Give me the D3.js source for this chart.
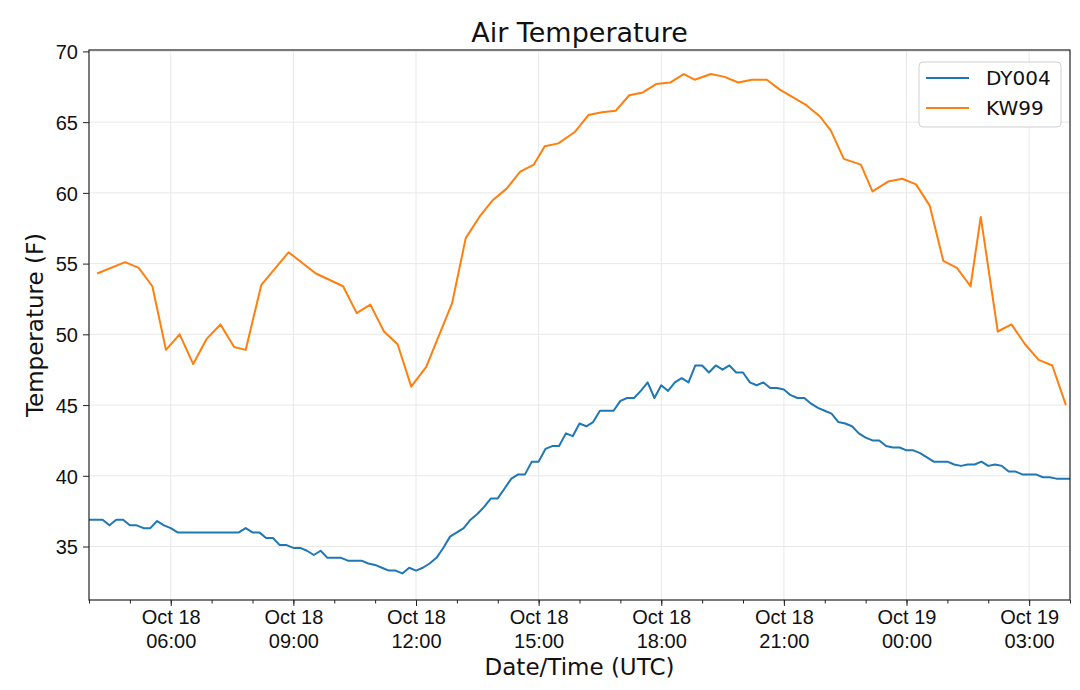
<!DOCTYPE html>
<html>
<head>
<meta charset="utf-8">
<script src="https://cdn.jsdelivr.net/npm/d3@7"></script>
<style>
  body { margin: 0; background: #fff; }
  svg { font-family: "DejaVu Sans", sans-serif; }
  .grid line { stroke: #e8e8e8; stroke-width: 1; }
  .axis path, .axis line { stroke: #222; }
  .axis text { fill: #111; font-size: 20px; }
</style>
</head>
<body>
<svg id="chart"></svg>
<script>
// DY004: one reading every 10 minutes from Oct 18 04:00 UTC
const dyStart = '2019-10-18T04:00:00Z';
const dyStepMinutes = 10;
const dyTemps = [
  36.9, 36.9, 36.9, 36.5, 36.9, 36.9, 36.5, 36.5, 36.3, 36.3,
  36.8, 36.5, 36.3, 36.0, 36.0, 36.0, 36.0, 36.0, 36.0, 36.0,
  36.0, 36.0, 36.0, 36.3, 36.0, 36.0, 35.6, 35.6, 35.1, 35.1,
  34.9, 34.9, 34.7, 34.4, 34.7, 34.2, 34.2, 34.2, 34.0, 34.0,
  34.0, 33.8, 33.7, 33.5, 33.3, 33.3, 33.1, 33.5, 33.3, 33.5,
  33.8, 34.2, 34.9, 35.7, 36.0, 36.3, 36.9, 37.3, 37.8, 38.4,
  38.4, 39.1, 39.8, 40.1, 40.1, 41.0, 41.0, 41.9, 42.1, 42.1,
  43.0, 42.8, 43.7, 43.5, 43.8, 44.6, 44.6, 44.6, 45.3, 45.5,
  45.5, 46.0, 46.6, 45.5, 46.4, 46.0, 46.6, 46.9, 46.6, 47.8,
  47.8, 47.3, 47.8, 47.5, 47.8, 47.3, 47.3, 46.6, 46.4, 46.6,
  46.2, 46.2, 46.1, 45.7, 45.5, 45.5, 45.1, 44.8, 44.6, 44.4,
  43.8, 43.7, 43.5, 43.0, 42.7, 42.5, 42.5, 42.1, 42.0, 42.0,
  41.8, 41.8, 41.6, 41.3, 41.0, 41.0, 41.0, 40.8, 40.7, 40.8,
  40.8, 41.0, 40.7, 40.8, 40.7, 40.3, 40.3, 40.1, 40.1, 40.1,
  39.9, 39.9, 39.8, 39.8, 39.8
];

// KW99: irregular readings
const kwTimes = [
  '18T04:12', '18T04:53', '18T05:13', '18T05:33', '18T05:53', '18T06:13',
  '18T06:33', '18T06:53', '18T07:13', '18T07:33', '18T07:50', '18T08:13',
  '18T08:53', '18T09:33', '18T10:13', '18T10:33', '18T10:53', '18T11:13',
  '18T11:33', '18T11:53', '18T12:15', '18T12:53', '18T13:13', '18T13:33',
  '18T13:53', '18T14:13', '18T14:33', '18T14:53', '18T15:09', '18T15:29',
  '18T15:53', '18T16:13', '18T16:33', '18T16:53', '18T17:13', '18T17:33',
  '18T17:53', '18T18:13', '18T18:33', '18T18:49', '18T19:13', '18T19:33',
  '18T19:53', '18T20:13', '18T20:35', '18T20:54', '18T21:33', '18T21:53',
  '18T22:09', '18T22:28', '18T22:53', '18T23:10', '18T23:33', '18T23:54',
  '19T00:14', '19T00:34', '19T00:54', '19T01:14', '19T01:34', '19T01:49',
  '19T02:14', '19T02:34', '19T02:54', '19T03:14', '19T03:34', '19T03:54'
];
const kwTemps = [
  54.3, 55.1, 54.7, 53.4, 48.9, 50.0,
  47.9, 49.7, 50.7, 49.1, 48.9, 53.5,
  55.8, 54.3, 53.4, 51.5, 52.1, 50.2,
  49.3, 46.3, 47.7, 52.2, 56.8, 58.3,
  59.5, 60.3, 61.5, 62.0, 63.3, 63.5,
  64.3, 65.5, 65.7, 65.8, 66.9, 67.1,
  67.7, 67.8, 68.4, 68.0, 68.4, 68.2,
  67.8, 68.0, 68.0, 67.3, 66.2, 65.4,
  64.4, 62.4, 62.0, 60.1, 60.8, 61.0,
  60.6, 59.1, 55.2, 54.7, 53.4, 58.3,
  50.2, 50.7, 49.3, 48.2, 47.8, 45.0
];

const seriesNames = ['DY004', 'KW99'];
const seriesColors = ['#1f77b4', '#ff7f0e'];
const yTicks = [35, 40, 45, 50, 55, 60, 65, 70];

const width = 1080, height = 690;
const margin = { top: 50, right: 10, bottom: 90, left: 89 };

const t0 = new Date(dyStart);
const dyData = dyTemps.map(function(v, i) {
  return { t: d3.utcMinute.offset(t0, i * dyStepMinutes), v: v };
});
const kwData = kwTimes.map(function(s, i) {
  return { t: new Date('2019-10-' + s + ':00Z'), v: kwTemps[i] };
});

const svg = d3.select('#chart')
  .attr('width', width)
  .attr('height', height);

const x = d3.scaleUtc()
  .domain(d3.extent(dyData, function(d) { return d.t; }))
  .range([margin.left, width - margin.right]);

const y = d3.scaleLinear()
  .domain([31.22, 70.1])
  .range([height - margin.bottom, margin.top]);

const majorTicks = x.ticks(d3.utcHour.every(3));
const minorTicks = x.ticks(d3.utcHour.every(1));

// grid
svg.append('g')
  .attr('class', 'grid')
  .selectAll('line.vx')
  .data(majorTicks)
  .enter()
  .append('line')
  .attr('x1', function(d) { return x(d); })
  .attr('x2', function(d) { return x(d); })
  .attr('y1', margin.top)
  .attr('y2', height - margin.bottom);

svg.append('g')
  .attr('class', 'grid')
  .selectAll('line.hy')
  .data(yTicks)
  .enter()
  .append('line')
  .attr('x1', margin.left)
  .attr('x2', width - margin.right)
  .attr('y1', function(d) { return y(d); })
  .attr('y2', function(d) { return y(d); });

// lines
const line = d3.line()
  .x(function(d) { return x(d.t); })
  .y(function(d) { return y(d.v); });

[dyData, kwData].forEach(function(data, i) {
  svg.append('path')
    .datum(data)
    .attr('fill', 'none')
    .attr('stroke', seriesColors[i])
    .attr('stroke-width', 2)
    .attr('stroke-linejoin', 'round')
    .attr('d', line);
});

// frame
svg.append('rect')
  .attr('x', margin.left)
  .attr('y', margin.top)
  .attr('width', width - margin.left - margin.right)
  .attr('height', height - margin.top - margin.bottom)
  .attr('fill', 'none')
  .attr('stroke', '#222')
  .attr('stroke-width', 1.2);

// x axis: minor ticks
svg.append('g')
  .attr('class', 'axis')
  .attr('transform', 'translate(0,' + (height - margin.bottom) + ')')
  .call(d3.axisBottom(x).tickValues(minorTicks).tickSize(3.5).tickFormat(''))
  .call(function(g) { g.select('.domain').remove(); });

// x axis: major ticks
const fmtDay = d3.utcFormat('%b %d');
const fmtTime = d3.utcFormat('%H:%M');
const xAxis = svg.append('g')
  .attr('class', 'axis')
  .attr('transform', 'translate(0,' + (height - margin.bottom) + ')')
  .call(d3.axisBottom(x).tickValues(majorTicks).tickSize(6).tickFormat(''));
xAxis.select('.domain').remove();
xAxis.selectAll('.tick').each(function(d) {
  const t = d3.select(this).append('text')
    .attr('fill', '#111')
    .attr('text-anchor', 'middle');
  t.append('tspan').attr('x', 0).attr('y', 24).text(fmtDay(d));
  t.append('tspan').attr('x', 0).attr('y', 48).text(fmtTime(d));
});

// y axis
svg.append('g')
  .attr('class', 'axis')
  .attr('transform', 'translate(' + margin.left + ',0)')
  .call(d3.axisLeft(y).tickValues(yTicks).tickSize(6).tickPadding(5))
  .call(function(g) { g.select('.domain').remove(); })
  .selectAll('text')
  .attr('dy', '0.36em');

// title and labels
svg.append('text')
  .attr('x', (margin.left + width - margin.right) / 2)
  .attr('y', 42)
  .attr('text-anchor', 'middle')
  .attr('font-size', 27)
  .attr('fill', '#111')
  .text('Air Temperature');

svg.append('text')
  .attr('x', (margin.left + width - margin.right) / 2)
  .attr('y', 675)
  .attr('text-anchor', 'middle')
  .attr('font-size', 23)
  .attr('fill', '#111')
  .text('Date/Time (UTC)');

svg.append('text')
  .attr('transform', 'translate(43,' + ((margin.top + height - margin.bottom) / 2) + ') rotate(-90)')
  .attr('text-anchor', 'middle')
  .attr('font-size', 23)
  .attr('fill', '#111')
  .text('Temperature (F)');

// legend
const legend = svg.append('g')
  .attr('transform', 'translate(919,62)');

legend.append('rect')
  .attr('width', 142)
  .attr('height', 65)
  .attr('rx', 4)
  .attr('fill', '#fff')
  .attr('fill-opacity', 0.8)
  .attr('stroke', '#d0d0d0');

seriesNames.forEach(function(name, i) {
  const row = legend.append('g')
    .attr('transform', 'translate(0,' + (16 + i * 30) + ')');
  row.append('line')
    .attr('x1', 7)
    .attr('x2', 50)
    .attr('stroke', seriesColors[i])
    .attr('stroke-width', 2);
  row.append('text')
    .attr('x', 67)
    .attr('dy', '0.36em')
    .attr('font-size', 20)
    .attr('fill', '#111')
    .text(name);
});
</script>
</body>
</html>
